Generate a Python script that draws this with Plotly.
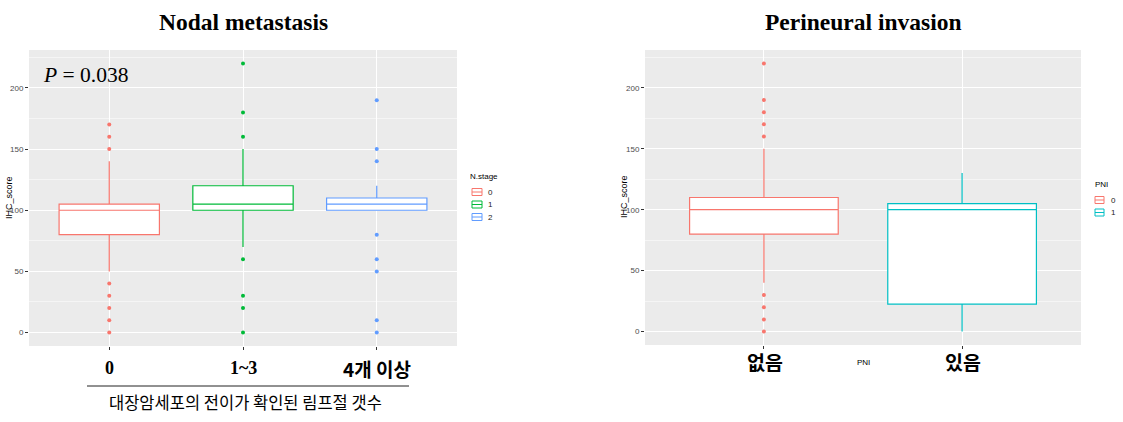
import plotly.graph_objects as go

W, H = 1123, 422

# ---------------- data ----------------
nodal_labels = ["0", "1~3", "4개 이상"]
nodal_levels = ["0", "1", "2"]
nodal_q1 = [80, 100, 100]
nodal_median = [100, 105, 105]
nodal_q3 = [105, 120, 110]
nodal_lower = [50, 70, 100]
nodal_upper = [140, 150, 120]
nodal_outliers = [
    [170, 160, 150, 40, 30, 20, 10, 0],
    [220, 180, 160, 60, 30, 20, 0],
    [190, 150, 140, 80, 60, 50, 10, 0],
]

pni_labels = ["없음", "있음"]
pni_levels = ["0", "1"]
pni_q1 = [80, 22.5]
pni_median = [100, 100]
pni_q3 = [110, 105]
pni_lower = [40, 0]
pni_upper = [150, 130]
pni_outliers = [
    [220, 190, 180, 170, 160, 30, 20, 10, 0],
    [],
]

y_ticks = [0, 50, 100, 150, 200]
y_minor = [25, 75, 125, 175, 225]

colors3 = ["#F8766D", "#00BA38", "#619CFF"]
colors2 = ["#F8766D", "#00BFC4"]

SERIF = "Liberation Serif"
KR = "Noto Sans CJK KR"
SANS = "Liberation Sans"


def px(x):
    return x / W


def py(y):
    return 1 - y / H


fig = go.Figure()


def add_panel(xa, ya, q1, med, q3, lo, hi, outl, cols):
    for i in range(len(q1)):
        fig.add_trace(go.Box(
            x=[i], q1=[q1[i]], median=[med[i]], q3=[q3[i]],
            lowerfence=[lo[i]], upperfence=[hi[i]],
            width=0.75, fillcolor="white", orientation="v",
            line=dict(color=cols[i], width=1.2), whiskerwidth=0,
            boxpoints=False, showlegend=False, xaxis=xa, yaxis=ya,
        ))
        if outl[i]:
            fig.add_trace(go.Scatter(
                x=[i] * len(outl[i]), y=outl[i], mode="markers",
                marker=dict(color=cols[i], size=4),
                showlegend=False, xaxis=xa, yaxis=ya,
            ))


add_panel("x", "y", nodal_q1, nodal_median, nodal_q3, nodal_lower,
          nodal_upper, nodal_outliers, colors3)
add_panel("x2", "y2", pni_q1, pni_median, pni_q3, pni_lower,
          pni_upper, pni_outliers, colors2)

xcommon = dict(showticklabels=False, ticks="outside", ticklen=3,
               tickcolor="#333333", showgrid=True, gridcolor="white",
               gridwidth=1.1, zeroline=False, showline=False)
ycommon = dict(tickvals=y_ticks, ticks="outside", ticklen=3,
               tickcolor="#333333", tickfont=dict(size=8, color="#4D4D4D", family=SANS),
               showgrid=True, gridcolor="white", gridwidth=1.1,
               zeroline=False, showline=False, range=[-11, 231],
               minor=dict(tickvals=y_minor, showgrid=True, gridcolor="#F5F5F5",
                          gridwidth=0.5, ticks=""))

fig.update_layout(
    width=W, height=H, margin=dict(l=0, r=0, t=0, b=0),
    paper_bgcolor="white", plot_bgcolor="#EBEBEB", boxmode="overlay",
    xaxis=dict(domain=[px(29), px(457)], range=[-0.6, 2.6],
               tickvals=list(range(len(nodal_labels))), **xcommon),
    yaxis=dict(domain=[py(346), py(50)], anchor="x", **ycommon),
    xaxis2=dict(domain=[px(645), px(1081)], range=[-0.6, 1.6],
                tickvals=list(range(len(pni_labels))), anchor="y2", **xcommon),
    yaxis2=dict(domain=[py(345), py(50)], anchor="x2", **ycommon),
    font=dict(family=SANS, color="black"),
)

ann = []


def text(x, y, t, size, family, xanchor="center", bold=False, color="black", angle=0):
    if bold:
        t = "<b>" + t + "</b>"
    ann.append(dict(x=px(x), y=py(y), xref="paper", yref="paper", text=t,
                    showarrow=False, xanchor=xanchor, yanchor="middle",
                    textangle=angle,
                    font=dict(size=size, family=family, color=color)))


# titles
text(243, 22, "Nodal metastasis", 23.5, SERIF, bold=True)
text(863, 22, "Perineural invasion", 23.5, SERIF, bold=True)
# p value
ann.append(dict(x=px(41), y=py(75), xref="paper", yref="paper",
                text="<i>P</i> = 0.038", showarrow=False, xanchor="left",
                yanchor="middle", font=dict(size=21.5, family=SERIF, color="black")))

# x category labels left
x_centers_left = [109, 243, 377]
for i, lab in enumerate(nodal_labels):
    fam = SERIF if i < 2 else KR
    size = 18 if i < 2 else 19
    text(x_centers_left[i], 368, lab, size, fam, bold=True)
text(245, 402, "대장암세포의 전이가 확인된 림프절 갯수", 16.5, KR)

# x category labels right
x_centers_right = [765, 963]
for i, lab in enumerate(pni_labels):
    text(x_centers_right[i], 361, lab, 19.5, KR, bold=True)
text(863, 362, "PNI", 8, SANS)

# y titles
text(9, 198, "IHC_score", 9, SANS, angle=-90)
text(624, 197, "IHC_score", 9, SANS, angle=-90)

# legends
shapes = []
shapes.append(dict(type="line", xref="paper", yref="paper",
                   x0=px(87), x1=px(409), y0=py(386), y1=py(386),
                   line=dict(color="#222222", width=1)))


def legend(title, tx, ty, levels, cols, kx0, kx1, rows, lx):
    text(tx, ty, title, 8, SANS, xanchor="left")
    for lev, c, ry in zip(levels, cols, rows):
        shapes.append(dict(type="rect", xref="paper", yref="paper",
                           x0=px(kx0), x1=px(kx1), y0=py(ry + 3.5), y1=py(ry - 3.5),
                           line=dict(color=c, width=1), fillcolor="white"))
        shapes.append(dict(type="line", xref="paper", yref="paper",
                           x0=px(kx0), x1=px(kx1), y0=py(ry), y1=py(ry),
                           line=dict(color=c, width=1)))
        text(lx, ry, lev, 8, SANS, xanchor="left", color="#222222")


legend("N.stage", 468, 177, nodal_levels, colors3, 472, 482, [192, 204.5, 217], 486)
legend("PNI", 1093, 185, pni_levels, colors2, 1095, 1104, [200, 212.5], 1109)

fig.update_layout(annotations=ann, shapes=shapes)

fig.write_html("out.html")
